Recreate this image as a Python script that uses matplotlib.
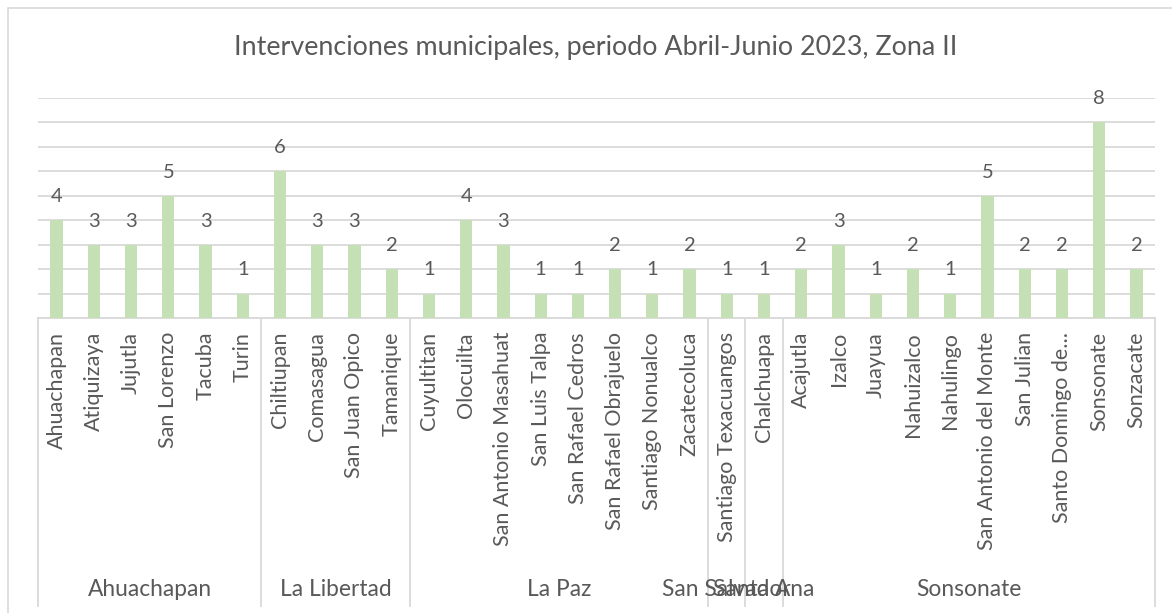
import matplotlib
matplotlib.use("Agg")
import matplotlib.pyplot as plt
from matplotlib.patches import Rectangle
import matplotlib.transforms as mtransforms

plt.rcParams['font.family'] = ['Lato', 'DejaVu Sans']

title = "Intervenciones municipales, periodo Abril-Junio 2023, Zona II"
groups = ["Ahuachapan", "La Libertad", "La Paz", "San Salvador", "Santa Ana", "Sonsonate"]
group_sizes = [6, 4, 8, 1, 1, 10]
municipios = [
    "Ahuachapan", "Atiquizaya", "Jujutla", "San Lorenzo", "Tacuba", "Turin",
    "Chiltiupan", "Comasagua", "San Juan Opico", "Tamanique",
    "Cuyultitan", "Olocuilta", "San Antonio Masahuat", "San Luis Talpa",
    "San Rafael Cedros", "San Rafael Obrajuelo", "Santiago Nonualco", "Zacatecoluca",
    "Santiago Texacuangos",
    "Chalchuapa",
    "Acajutla", "Izalco", "Juayua", "Nahuizalco", "Nahulingo",
    "San Antonio del Monte", "San Julian", "Santo Domingo de...", "Sonsonate", "Sonzacate",
]
values = [4, 3, 3, 5, 3, 1,
          6, 3, 3, 2,
          1, 4, 3, 1, 1, 2, 1, 2,
          1,
          1,
          2, 3, 1, 2, 1, 5, 2, 2, 8, 2]

W, H = 1172, 613
fig = plt.figure(figsize=(W / 100, H / 100), dpi=100)
fig.patch.set_facecolor('white')

# chart frame
fig.patches.append(Rectangle((8 / W, -0.1), 1.2, 1 - 8 / H + 0.1, transform=fig.transFigure,
                             fill=False, edgecolor='#D9D9D9', linewidth=1.2))

ax_left, ax_right = 38 / W, 1155 / W
ax_bottom, ax_top = 1 - 318 / H, 1 - 97.7 / H
ax = fig.add_axes([ax_left, ax_bottom, ax_right - ax_left, ax_top - ax_bottom])

n = len(values)
x = list(range(n))
bar_color = '#C5E0B4'
text_color = '#595959'
grid_color = '#D9D9D9'

ax.bar(x, values, width=0.33, color=bar_color, zorder=3)
ax.set_xlim(-0.5, n - 0.5)
ax.set_ylim(0, 9)
ax.set_yticks(range(0, 10))
ax.yaxis.grid(True, color=grid_color, linewidth=1.3, zorder=0)
ax.set_axisbelow(True)
ax.tick_params(axis='both', length=0, labelleft=False, labelbottom=False)
for s in ['top', 'right', 'left']:
    ax.spines[s].set_visible(False)
ax.spines['bottom'].set_color(grid_color)
ax.spines['bottom'].set_linewidth(1.3)

for xi, v in zip(x, values):
    ax.annotate(str(v), (xi, v), xytext=(0, 13), textcoords='offset points',
                ha='center', va='baseline', fontsize=14.5, color=text_color)

# axis heights in pixels
ax_h_px = 318 - 97.7
trans = mtransforms.blended_transform_factory(ax.transData, ax.transAxes)

def ay(py):
    return -(py - 318) / ax_h_px

# municipio labels
for xi, name in zip(x, municipios):
    ax.text(xi, ay(332), name, transform=trans, rotation=90, ha='center', va='top',
            fontsize=15.5, color=text_color, clip_on=False)

# group separators and labels
start = 0
bounds = [-0.5]
for g, size in zip(groups, group_sizes):
    end = start + size
    bounds.append(end - 0.5)
    center = start + (size - 1) / 2
    ax.text(center, ay(590), g, transform=trans, ha='center', va='center',
            fontsize=16.4, color=text_color, clip_on=False)
    start = end

for b in bounds:
    ax.plot([b, b], [0, ay(606)], transform=trans, color=grid_color, linewidth=1.3,
            clip_on=False, zorder=1)

fig.text(0.5 * (233 + 958) / W, 1 - 48 / H, title, ha='center', va='center',
         fontsize=19.4, color=text_color)

fig.savefig("out.png", dpi=100)
